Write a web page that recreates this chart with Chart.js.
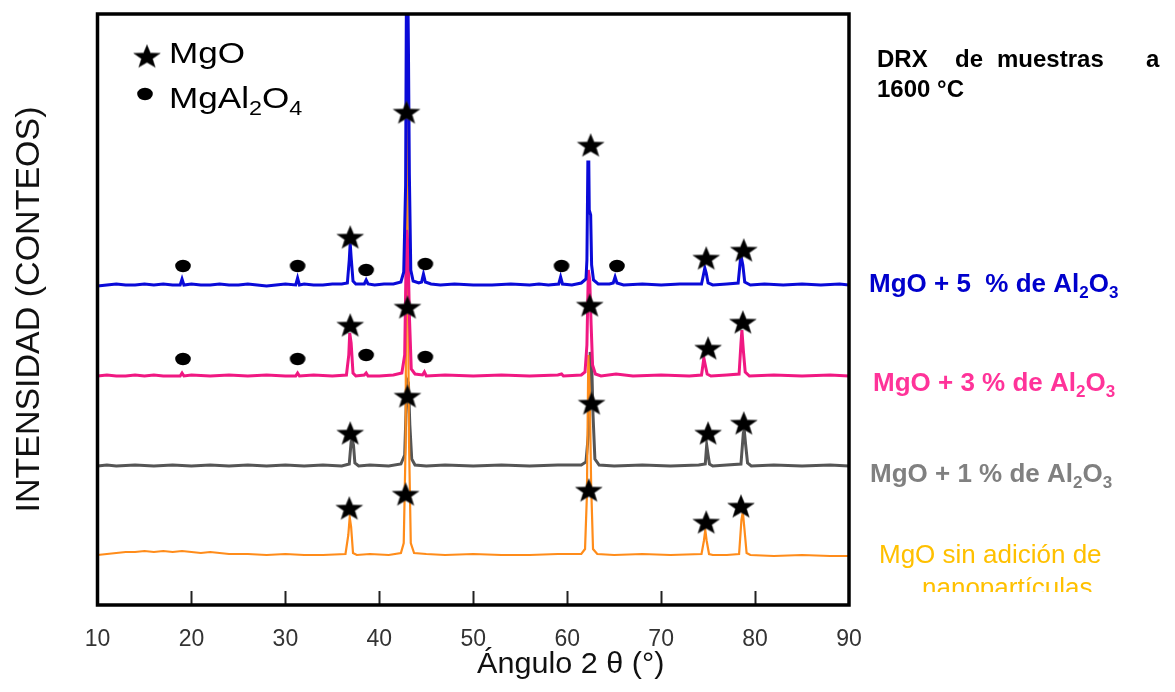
<!DOCTYPE html>
<html>
<head>
<meta charset="utf-8">
<script src="https://cdn.jsdelivr.net/npm/chart.js@4.4.1/dist/chart.umd.min.js"></script>
<style>
  html, body { margin: 0; padding: 0; background: #fff; }
</style>
</head>
<body>
<canvas id="xrd" width="1175" height="692"></canvas>
<script>
// x axis: 2 theta (degrees); y axis: counts with each pattern shifted up
const xTicks = [10, 20, 30, 40, 50, 60, 70, 80, 90];

// MgO + 5 % Al2O3
const blue5 = [
  [10,319],[11,320],[12,321],[13,320],[14,320],[15,321],[16,320],[17,321],[18,320],[18.8,320],[19.0,326],[19.2,320],
  [20,321],[21,320],[22,320],[23,321],[24,320],[25,320],[26,321],[27,320],[28,319],[29,320],[30,321],
  [31.1,320],[31.3,327],[31.5,320],[32,321],[33,320],[34,320],[35,321],[36,321],[36.6,322],[36.8,345],
  [36.9,362],[37.0,348],[37.2,324],[37.5,321],[38.4,321],[38.6,325],[38.8,321],[39.5,320],[40.5,321],
  [41.5,321],[42.3,323],[42.6,333],[42.8,420],[42.9,650],[43.0,650],[43.1,557],[43.2,430],[43.35,335],
  [43.6,324],[44.2,322],[44.5,323],[44.7,331],[44.9,323],[45.5,321],[46.5,320],[48,321],[50,320],[52,320],
  [54,321],[56,320],[57,321],[58,320],[59.1,321],[59.3,328],[59.5,321],[60.5,320],[61.5,322],[62.0,326],
  [62.1,345],[62.2,443],[62.3,443],[62.35,395],[62.5,390],[62.6,340],[62.8,325],[63.3,321],[64.5,321],
  [64.9,322],[65.1,328],[65.3,322],[66,320],[68,321],[70,320],[72,321],[74.3,321],[74.5,330],[74.65,337],
  [74.8,332],[75.0,322],[75.5,320],[77,321],[78.2,322],[78.45,346],[78.55,347],[78.7,340],[78.9,323],
  [79.5,320],[81,321],[83,320],[85,321],[87,320],[89,321],[90,320]
];

// MgO + 3 % Al2O3
const pink3 = [
  [10,229],[11,230],[12,229],[13,229],[14,230],[15,229],[16,230],[17,229],[18,229],[18.8,229],[19.0,232],[19.2,229],
  [20,230],[22,229],[24,230],[26,229],[28,230],[30,229],[31.1,229],[31.3,232],[31.5,229],[33,230],[35,229],
  [36.5,230],[36.75,250],[36.85,272],[37.0,262],[37.2,232],[37.5,229],[38.4,230],[38.6,232],[38.8,229],
  [40,229],[41.5,230],[42.4,232],[42.7,250],[42.9,375],[43.05,360],[43.2,290],[43.4,236],[43.8,231],
  [44.6,230],[44.8,233],[45.0,229],[47,230],[50,229],[53,230],[56,229],[59,230],[59.4,231],[59.6,229],
  [61.5,230],[61.9,233],[62.1,260],[62.25,335],[62.4,325],[62.55,280],[62.7,240],[63.0,231],[63.6,229],
  [65.2,231],[67,229],[70,230],[73,229],[74.3,230],[74.45,240],[74.55,247],[74.7,240],[74.9,231],[75.3,229],
  [77,230],[78.3,231],[78.5,262],[78.6,275],[78.75,255],[78.95,233],[79.4,229],[82,230],[85,229],[88,230],[90,229]
];

// MgO + 1 % Al2O3
const gray1 = [
  [10,139],[11,140],[12,139],[14,140],[16,139],[18,140],[20,139],[22,140],[24,139],[26,140],[28,139],
  [30,140],[32,139],[34,140],[36,139],[36.8,141],[37.0,163],[37.1,165],[37.25,160],[37.4,142],[37.8,139],
  [39,140],[41,139],[42.3,141],[42.7,150],[42.95,225],[43.1,222],[43.25,180],[43.45,146],[43.8,140],
  [45,139],[47,140],[50,139],[53,140],[56,139],[59,140],[61.5,140],[62.0,143],[62.25,170],[62.45,253],
  [62.6,245],[62.75,190],[62.95,146],[63.4,140],[65,139],[68,140],[71,139],[74,140],[74.7,141],[74.85,160],
  [75.0,150],[75.15,141],[75.5,139],[77,140],[78.5,141],[78.75,172],[78.85,175],[79.0,160],[79.2,142],
  [79.6,139],[82,140],[85,139],[88,140],[90,139]
];

// MgO sin adicion
const orange0 = [
  [10,50],[11,51],[12,52],[13,53],[14,53],[15,54],[16,53],[17,54],[18,53],[19,54],[20,53],[21,52],[22,53],
  [23,52],[24,51],[26,51],[28,50],[30,51],[32,50],[34,50],[36.4,51],[36.7,70],[36.85,88],[37.0,78],[37.2,52],
  [37.6,50],[39,51],[41,50],[42.3,52],[42.6,62],[42.8,160],[42.9,485],[43.0,420],[43.15,170],[43.35,62],
  [43.7,52],[45,51],[47,50],[50,51],[53,50],[56,50],[59,51],[61.5,51],[61.9,56],[62.1,110],[62.25,250],
  [62.4,215],[62.55,120],[62.75,56],[63.2,51],[65,50],[68,51],[71,50],[74.3,51],[74.55,64],[74.7,75],
  [74.85,64],[75.1,51],[75.5,50],[77,50],[78.3,51],[78.55,85],[78.7,93],[78.85,78],[79.1,52],[79.5,50],
  [82,49],[85,50],[88,49],[90,49]
];

// peak markers
const mgoStars = [
  [36.9,368],[42.9,493],[62.5,460],[74.8,347],[78.8,355],
  [36.9,280],[43.0,298],[62.4,300],[75.0,257],[78.7,283],
  [36.9,172],[43.0,209],[62.6,202],[75.0,172],[78.8,182],
  [36.8,97],[42.8,111],[62.3,115],[74.8,83],[78.5,99]
];
const spinelDots = [
  [19.1,339],[31.3,339],[38.6,335],[44.9,341],[59.4,339],[65.3,339],
  [19.1,246],[31.3,246],[38.6,250],[44.9,248]
];

const FONT = "'Liberation Sans', Arial, sans-serif";

function makeStar() {
  const c = document.createElement('canvas');
  c.width = 30; c.height = 25;
  const g = c.getContext('2d');
  const R = 12.4, r = R * 0.42;
  g.translate(15, 12.5 + (R - 0.809 * R) / 2);
  g.scale(1.13, 1);
  g.beginPath();
  for (let i = 0; i < 10; i++) {
    const a = -Math.PI / 2 + i * Math.PI / 5;
    const rad = i % 2 ? r : R;
    g.lineTo(rad * Math.cos(a), rad * Math.sin(a));
  }
  g.closePath();
  g.fillStyle = '#000';
  g.fill();
  g.lineWidth = 0.8;
  g.strokeStyle = 'rgba(60,60,60,0.6)';
  g.stroke();
  return c;
}

function makeDot() {
  const c = document.createElement('canvas');
  c.width = 18; c.height = 14;
  const g = c.getContext('2d');
  g.beginPath();
  g.ellipse(9, 7, 7.8, 6.2, 0, 0, Math.PI * 2);
  g.fillStyle = '#000';
  g.fill();
  return c;
}

const starImg = makeStar();
const dotImg = makeDot();

function toXY(arr) {
  return arr.map(p => ({ x: p[0], y: p[1] }));
}

// text with subscripts: parts = [[text, isSub], ...]
function chemText(ctx, parts, x, y, size, weight, color, sx) {
  ctx.save();
  ctx.translate(x, y);
  ctx.scale(sx || 1, 1);
  ctx.fillStyle = color;
  ctx.textBaseline = 'alphabetic';
  ctx.textAlign = 'left';
  let cx = 0;
  parts.forEach(p => {
    const s = p[1] ? Math.round(size * 0.65) : size;
    ctx.font = weight + ' ' + s + 'px ' + FONT;
    ctx.fillText(p[0], cx, p[1] ? size * 0.22 : 0);
    cx += ctx.measureText(p[0]).width;
  });
  ctx.restore();
}

const decor = {
  id: 'decor',
  afterDraw(chart) {
    const ctx = chart.ctx;
    const a = chart.chartArea;
    const xs = chart.scales.x;

    // inward tick marks
    ctx.save();
    ctx.strokeStyle = '#222';
    ctx.lineWidth = 2;
    xTicks.slice(1, -1).forEach(v => {
      const px = Math.round(xs.getPixelForValue(v)) + 0.5;
      ctx.beginPath();
      ctx.moveTo(px, a.bottom);
      ctx.lineTo(px, a.bottom - 14);
      ctx.stroke();
    });
    // frame
    ctx.lineWidth = 3.5;
    ctx.strokeStyle = '#000';
    ctx.strokeRect(a.left, a.top, a.right - a.left, a.bottom - a.top);
    ctx.restore();

    // x axis title, placed as in the original figure
    chemText(ctx, [['Ángulo 2 θ (°)', 0]], 477, 673, 30, 'normal', '#111', 1.02);

    // legend
    ctx.drawImage(starImg, 147 - 15, 56 - 12.5);
    ctx.drawImage(dotImg, 145 - 9, 94 - 7);
    chemText(ctx, [['MgO', 0]], 169, 63, 30, 'normal', '#000', 1.17);
    chemText(ctx, [['MgAl', 0], ['2', 1], ['O', 0], ['4', 1]], 169, 108, 30, 'normal', '#000', 1.17);

    // title on the right
    ctx.save();
    ctx.fillStyle = '#000';
    ctx.font = 'bold 24px ' + FONT;
    ctx.fillText('DRX', 877, 67);
    ctx.fillText('de', 955, 67);
    ctx.fillText('muestras', 997, 67);
    ctx.fillText('a', 1146, 67);
    ctx.fillText('1600 °C', 877, 97);
    ctx.restore();

    // series labels
    chemText(ctx, [['MgO + 5  % de Al', 0], ['2', 1], ['O', 0], ['3', 1]], 869, 292, 26, 'bold', '#0000CC');
    chemText(ctx, [['MgO + 3 % de Al', 0], ['2', 1], ['O', 0], ['3', 1]], 873, 391, 26, 'bold', '#FF3399');
    chemText(ctx, [['MgO + 1 % de Al', 0], ['2', 1], ['O', 0], ['3', 1]], 870, 482, 26, 'bold', '#808080');
    chemText(ctx, [['MgO sin adición de', 0]], 879, 563, 26, 'normal', '#FFC000');
    ctx.save();
    ctx.beginPath();
    ctx.rect(850, 560, 325, 32);
    ctx.clip();
    chemText(ctx, [['nanopartículas.', 0]], 922, 596, 26, 'normal', '#FFC000');
    ctx.restore();
  }
};

new Chart(document.getElementById('xrd'), {
  type: 'scatter',
  data: {
    datasets: [
      { label: 'MgO', data: toXY(mgoStars), pointStyle: starImg, pointRadius: 10, showLine: false },
      { label: 'MgAl2O4', data: toXY(spinelDots), pointStyle: dotImg, pointRadius: 8, showLine: false },
      { label: 'MgO + 5 % de Al2O3', data: toXY(blue5), showLine: true, borderColor: '#0A0AD8', borderWidth: 3, pointRadius: 0, tension: 0 },
      { label: 'MgO + 3 % de Al2O3', data: toXY(pink3), showLine: true, borderColor: '#F01882', borderWidth: 3, pointRadius: 0, tension: 0 },
      { label: 'MgO sin adición', data: toXY(orange0), showLine: true, borderColor: '#FF8C1A', borderWidth: 2.2, pointRadius: 0, tension: 0 },
      { label: 'MgO + 1 % de Al2O3', data: toXY(gray1), showLine: true, borderColor: '#555555', borderWidth: 3, pointRadius: 0, tension: 0 }
    ]
  },
  options: {
    responsive: false,
    animation: false,
    devicePixelRatio: 1,
    layout: { padding: { left: 0, right: 326, top: 14, bottom: 0 } },
    plugins: { legend: { display: false }, tooltip: { enabled: false } },
    scales: {
      x: {
        type: 'linear',
        min: 10,
        max: 90,
        afterFit: s => { s.height = 87; },
        afterBuildTicks: s => { s.ticks = xTicks.map(v => ({ value: v })); },
        grid: { display: false, drawTicks: false },
        border: { display: false },
        ticks: { color: '#333', padding: 21, font: { family: FONT, size: 23 } },
        title: { display: false }
      },
      y: {
        min: 0,
        max: 591,
        afterFit: s => { s.width = 97.5; },
        grid: { display: false, drawTicks: false },
        border: { display: false },
        ticks: { display: false },
        title: { display: true, text: 'INTENSIDAD (CONTEOS)', color: '#111', padding: { top: 9, bottom: 0 }, font: { family: FONT, size: 34 } }
      }
    }
  },
  plugins: [decor]
});
</script>
</body>
</html>
